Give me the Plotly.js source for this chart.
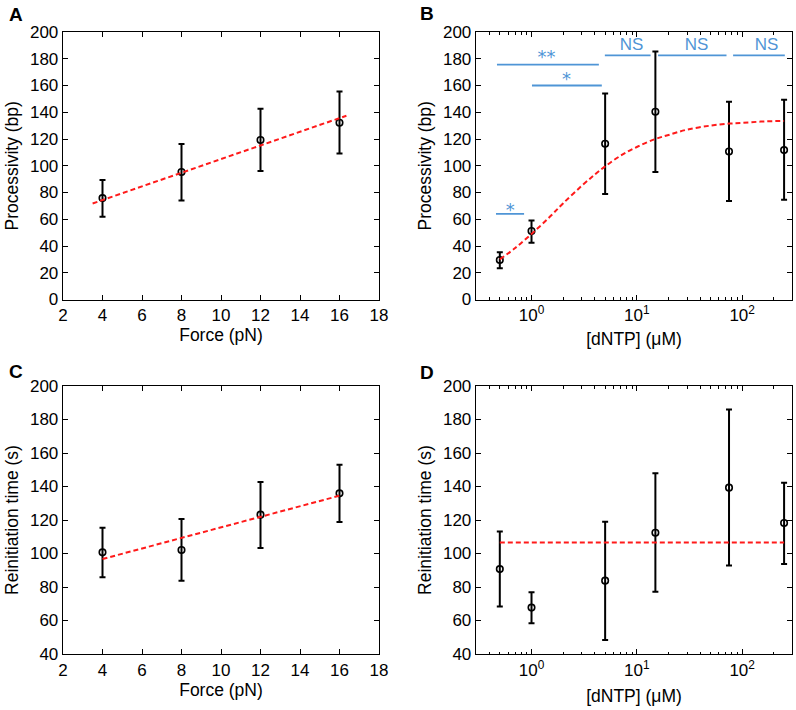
<!DOCTYPE html>
<html>
<head>
<meta charset="utf-8">
<script src="https://cdn.plot.ly/plotly-3.0.1.min.js"></script>
<style>html,body{margin:0;padding:0;background:#fff;}#chart{width:796px;height:710px;}</style>
</head>
<body>
<div id="chart"></div>
<script>
// ---------- Panel A: processivity vs force ----------
const forceA = [4, 8, 12, 16];
const procA = [75.8, 95.3, 119.2, 132.2];
const procAErrUp = [13.5, 20.9, 23.4, 23.4];
const procAErrDown = [14.0, 21.2, 23.2, 23.0];
const fitAx = [3.5, 16.35];
const fitAy = [71.8, 137.4];

// ---------- Panel B: processivity vs dNTP ----------
const dntp = [0.5, 1, 5, 15, 75, 250];
const procB = [29.5, 51.2, 116.5, 140.4, 110.7, 111.7];
const procBErrUp = [5.8, 7.9, 37.6, 45.1, 37.2, 37.7];
const procBErrDown = [6.1, 8.8, 37.7, 45.1, 37.1, 37.1];
const fitBx = [0.5, 0.7, 1, 1.5, 2, 3, 4, 5, 7, 10, 15, 20, 30, 50, 75, 100, 150, 250];
const fitBy = [30, 38.5, 49, 62, 72, 85, 93.5, 99.5, 107.5, 114, 120, 123, 127, 130, 131.5, 132, 133, 133.5];

// significance bars (panel B)
const sigStart = [0.46, 0.47, 1.01, 4.97, 15.9, 82];
const sigEnd = [0.85, 4.36, 4.65, 13.5, 71, 254];
const sigLevel = [64, 175.6, 160, 182.5, 182.5, 182.5];
const sigText = ['*', '**', '*', 'NS', 'NS', 'NS'];
const sigTextX = [0.63, 1.39, 2.15, 8.9, 36.9, 170];
const sigTextY = [66, 180, 163.5, 189.8, 189.8, 189.8];

// ---------- Panel C: reinitiation time vs force ----------
const forceC = [4, 8, 12, 16];
const reinitC = [100.7, 102.1, 123.2, 135.9];
const reinitCErrUp = [14.7, 18.5, 19.5, 17.1];
const reinitCErrDown = [14.9, 18.3, 19.9, 17.1];
const fitCx = [4, 16];
const fitCy = [96.7, 134.5];

// ---------- Panel D: reinitiation time vs dNTP ----------
const reinitD = [90.7, 67.7, 83.8, 112.4, 139.3, 118.2];
const reinitDErrUp = [22.5, 9.1, 35.2, 35.5, 46.6, 24.1];
const reinitDErrDown = [22.4, 9.4, 35.4, 35.2, 46.4, 24.5];
const fitDx = [0.5, 250];
const fitDy = [106.5, 106.5];

// tick labels
const logTickVals = [1, 10, 100];
const logTickText = ['10<sup>0</sup>', '10<sup>1</sup>', '10<sup>2</sup>'];
const logMinorVals = [0.3,0.4,0.5,0.6,0.7,0.8,0.9,2,3,4,5,6,7,8,9,20,30,40,50,60,70,80,90,200,300];

const FONT = 'Liberation Sans, Arial, Helvetica, sans-serif';
const STARFONT = 'DejaVu Sans, sans-serif';
const RED = '#ff1a1a';
const BLUE = '#4f95d6';

function dataTrace(x, y, up, down, xa, ya) {
  return {
    x: x, y: y, xaxis: xa, yaxis: ya, type: 'scatter', mode: 'markers',
    marker: {symbol: 'circle-open', size: 6.5, color: 'black', line: {width: 1.6, color: 'black'}},
    error_y: {type: 'data', symmetric: false, array: up, arrayminus: down, color: 'black', thickness: 2, width: 3},
    showlegend: false, hoverinfo: 'skip'
  };
}
function fitTrace(x, y, xa, ya, shape) {
  return {
    x: x, y: y, xaxis: xa, yaxis: ya, type: 'scatter', mode: 'lines',
    line: {color: RED, width: 2, dash: '5px,3px', shape: shape || 'linear'},
    showlegend: false, hoverinfo: 'skip'
  };
}

const traces = [
  dataTrace(forceA, procA, procAErrUp, procAErrDown, 'x', 'y'),
  fitTrace(fitAx, fitAy, 'x', 'y'),
  dataTrace(dntp, procB, procBErrUp, procBErrDown, 'x2', 'y2'),
  fitTrace(fitBx, fitBy, 'x2', 'y2', 'spline'),
  dataTrace(forceC, reinitC, reinitCErrUp, reinitCErrDown, 'x3', 'y3'),
  fitTrace(fitCx, fitCy, 'x3', 'y3'),
  dataTrace(dntp, reinitD, reinitDErrUp, reinitDErrDown, 'x4', 'y4'),
  fitTrace(fitDx, fitDy, 'x4', 'y4')
];

for (let i = 0; i < sigStart.length; i++) {
  traces.push({
    x: [sigStart[i], sigEnd[i]], y: [sigLevel[i], sigLevel[i]], xaxis: 'x2', yaxis: 'y2',
    type: 'scatter', mode: 'lines', line: {color: BLUE, width: 1.8},
    showlegend: false, hoverinfo: 'skip', cliponaxis: false
  });
}
traces.push({
  x: sigTextX, y: sigTextY, text: sigText, xaxis: 'x2', yaxis: 'y2',
  type: 'scatter', mode: 'text', textposition: 'middle center',
  textfont: {
    family: sigText.map(t => t === 'NS' ? FONT : STARFONT),
    size: sigText.map(t => t === 'NS' ? 17 : 18),
    color: BLUE
  },
  showlegend: false, hoverinfo: 'skip', cliponaxis: false
});

function ax(extra) {
  return Object.assign({
    showline: true, linecolor: 'black', linewidth: 1.3, mirror: 'ticks',
    ticks: 'inside', ticklen: 5, tickwidth: 1, tickcolor: 'black',
    showgrid: false, zeroline: false,
    tickfont: {family: FONT, size: 17, color: 'black'}
  }, extra);
}
function titleObj(t, standoff) {
  const o = {text: t, font: {family: FONT, size: 17.5, color: 'black'}};
  if (standoff !== undefined) o.standoff = standoff;
  return o;
}
const logMinor = {tickmode: 'array', tickvals: logMinorVals, ticks: 'inside', ticklen: 2.5, tickwidth: 1, tickcolor: 'black', showgrid: false};

const W = 796, H = 710;
const xdL = [63 / W, 379 / W], xdR = [476 / W, 792 / W];
const ydT = [1 - 299.5 / H, 1 - 32 / H], ydB = [1 - 654 / H, 1 - 386 / H];

const layout = {
  width: W, height: H,
  margin: {l: 0, r: 0, t: 0, b: 0},
  paper_bgcolor: 'white', plot_bgcolor: 'white',
  font: {family: FONT, color: 'black'},
  showlegend: false,
  xaxis: ax({domain: xdL, anchor: 'y', range: [2, 18], tick0: 2, dtick: 2, title: titleObj('Force (pN)', 1)}),
  yaxis: ax({domain: ydT, anchor: 'x', range: [0, 200], tick0: 0, dtick: 20, title: titleObj('Processivity (bp)')}),
  xaxis2: ax({domain: xdR, anchor: 'y2', type: 'log', range: [-0.527, 2.473], tickmode: 'array', tickvals: logTickVals, ticktext: logTickText, minor: logMinor, title: titleObj('[dNTP] (μM)', 8)}),
  yaxis2: ax({domain: ydT, anchor: 'x2', range: [0, 200], tick0: 0, dtick: 20, title: titleObj('Processivity (bp)')}),
  xaxis3: ax({domain: xdL, anchor: 'y3', range: [2, 18], tick0: 2, dtick: 2, title: titleObj('Force (pN)', 5)}),
  yaxis3: ax({domain: ydB, anchor: 'x3', range: [40, 200], tick0: 40, dtick: 20, title: titleObj('Reinitiation time (s)')}),
  xaxis4: ax({domain: xdR, anchor: 'y4', type: 'log', range: [-0.527, 2.473], tickmode: 'array', tickvals: logTickVals, ticktext: logTickText, minor: logMinor, title: titleObj('[dNTP] (μM)', 11)}),
  yaxis4: ax({domain: ydB, anchor: 'x4', range: [40, 200], tick0: 40, dtick: 20, title: titleObj('Reinitiation time (s)')}),
  annotations: [
    {text: '<b>A</b>', x: 7 / W, y: 1 - 15 / H},
    {text: '<b>B</b>', x: 418 / W, y: 1 - 14 / H},
    {text: '<b>C</b>', x: 7 / W, y: 1 - 371 / H},
    {text: '<b>D</b>', x: 418 / W, y: 1 - 372 / H}
  ].map(a => Object.assign({xref: 'paper', yref: 'paper', xanchor: 'left', yanchor: 'middle', showarrow: false,
    font: {family: FONT, size: 19, color: 'black'}}, a))
};

Plotly.newPlot('chart', traces, layout, {staticPlot: true, displayModeBar: false});
</script>
</body>
</html>
